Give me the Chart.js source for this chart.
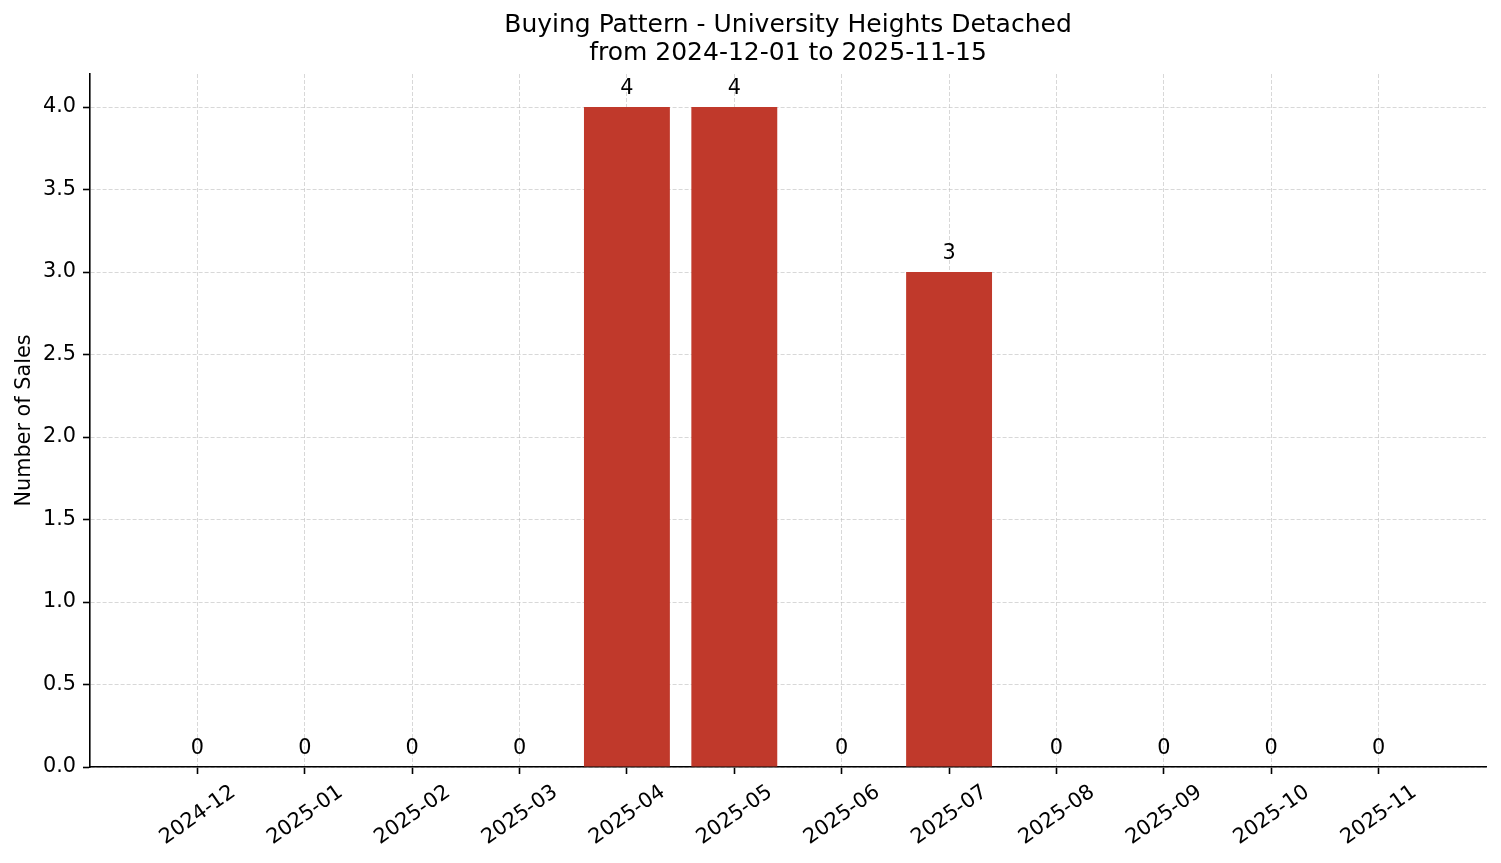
<!DOCTYPE html>
<html>
<head>
<meta charset="utf-8">
<script src="https://cdn.jsdelivr.net/npm/chart.js@4.4.1/dist/chart.umd.min.js"></script>
<style>
  html, body { margin: 0; padding: 0; background: #fff; }
  #wrap { width: 1501px; height: 863px; position: relative; }
</style>
</head>
<body>
<div id="wrap"><canvas id="salesChart"></canvas></div>
<script>
const months = ['2024-12', '2025-01', '2025-02', '2025-03', '2025-04', '2025-05',
                '2025-06', '2025-07', '2025-08', '2025-09', '2025-10', '2025-11'];
const sales = [0, 0, 0, 0, 4, 4, 0, 3, 0, 0, 0, 0];
const titleLines = ['Buying Pattern - University Heights Detached', 'from 2024-12-01 to 2025-11-15'];

Chart.defaults.font.family = "'DejaVu Sans', sans-serif";
Chart.defaults.color = '#000';

const gridColor = 'rgba(190, 190, 190, 0.6)';

// value labels above each bar
const barLabels = {
    id: 'barLabels',
    afterDraw(chart) {
        const ctx = chart.ctx;
        const meta = chart.getDatasetMeta(0);
        ctx.save();
        ctx.font = '20.8px "DejaVu Sans"';
        ctx.fillStyle = '#000';
        ctx.textAlign = 'center';
        ctx.textBaseline = 'alphabetic';
        meta.data.forEach((bar, i) => {
            ctx.fillText(String(sales[i]), bar.x, bar.y - 13);
        });
        ctx.restore();
    }
};

const ctxSales = document.getElementById('salesChart').getContext('2d');
const salesChart = new Chart(ctxSales, {
    type: 'bar',
    data: {
        datasets: [{
            label: 'Number of Sales',
            data: months.map((m, i) => ({ x: i, y: sales[i] })),
            backgroundColor: '#c0392b',
            borderWidth: 0,
            barPercentage: 0.8,
            categoryPercentage: 1.0
        }]
    },
    options: {
        responsive: true,
        maintainAspectRatio: false,
        animation: false,
        layout: { padding: { left: 0, right: 15, top: 0, bottom: 0 } },
        scales: {
            x: {
                type: 'linear',
                min: -1,
                max: 12,
                offset: false,
                z: 1,
                afterBuildTicks: axis => {
                    axis.ticks = months.map((m, i) => ({ value: i }));
                },
                afterFit: axis => { axis.height = 96; },
                ticks: {
                    stepSize: 1,
                    autoSkip: false,
                    minRotation: 35,
                    maxRotation: 35,
                    labelOffset: 36,
                    padding: 6,
                    font: { size: 20.8 },
                    callback: v => months[v] ?? ''
                },
                grid: {
                    offset: false,
                    color: gridColor,
                    lineWidth: 1,
                    tickLength: 7,
                    tickColor: '#000',
                    tickWidth: 1.6,
                    tickBorderDash: []
                },
                border: { display: true, color: '#000', width: 1.6, dash: [4, 2] }
            },
            y: {
                min: 0,
                max: 4.2,
                z: 1,
                afterBuildTicks: axis => {
                    axis.ticks = axis.ticks.filter(t => t.value <= 4.0);
                },
                afterFit: axis => { axis.width = 90; },
                ticks: {
                    stepSize: 0.5,
                    padding: 7,
                    font: { size: 20.8 },
                    callback: v => v.toFixed(1)
                },
                grid: {
                    color: gridColor,
                    lineWidth: 1,
                    tickLength: 7,
                    tickColor: '#000',
                    tickWidth: 1.6,
                    tickBorderDash: []
                },
                border: { display: true, color: '#000', width: 1.6, dash: [4, 2] },
                title: {
                    display: true,
                    text: 'Number of Sales',
                    font: { size: 20.8 },
                    padding: { top: 12, bottom: 0 }
                }
            }
        },
        plugins: {
            legend: { display: false },
            tooltip: { enabled: false },
            title: {
                display: true,
                text: titleLines,
                fullSize: false,
                color: '#000',
                font: { size: 25, weight: 'normal', lineHeight: 1.1 },
                padding: { top: 12, bottom: 7 }
            }
        }
    },
    plugins: [barLabels]
});
</script>
</body>
</html>
